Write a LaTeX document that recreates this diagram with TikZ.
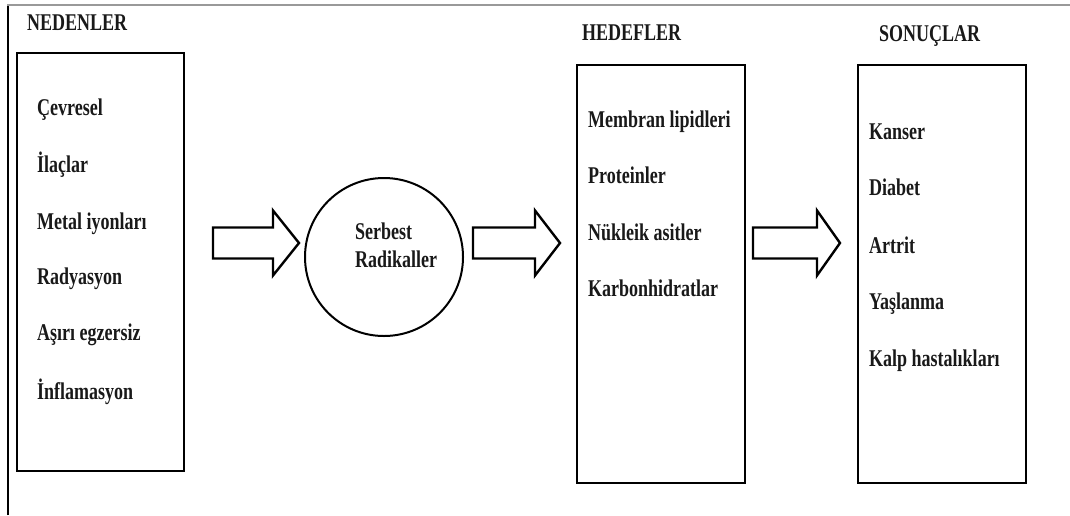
\documentclass[tikz,border=0pt]{standalone}
\usepackage{fontspec}
\setmainfont{Liberation Serif}[FakeStretch=0.75]
\begin{document}
\begin{tikzpicture}[x=1pt,y=-1pt,
  lbl/.style={font=\fontsize{24}{28}\selectfont\bfseries, inner sep=0pt, anchor=mid west, text=black!90},
  panel/.style={draw=black, line width=2.8pt},
  blk/.style={draw=black, line width=2.4pt, line join=miter, fill=white}]
\useasboundingbox (0,0) rectangle (1070,515);
% outer frame
\draw[gray!80, line width=2pt] (8,515) -- (8,5) -- (1070,5);
\draw[black, line width=1.6pt] (8,515) -- (8,6);
% titles
\node[lbl] (t1) at (27,28) {NEDENLER};
\node[lbl] (t2) at (582,38) {HEDEFLER};
\node[lbl] (t3) at (879,39) {SONUÇLAR};
% boxes
\draw[panel] (17,53) rectangle (184,471);
\draw[panel] (577,65) rectangle (745,483);
\draw[panel] (858,65) rectangle (1026,483);
% causes
\node[lbl] (c1) at (37,113) {Çevresel};
\node[lbl] (c2) at (37,170) {İlaçlar};
\node[lbl] (c3) at (37,227) {Metal iyonları};
\node[lbl] (c4) at (37,282) {Radyasyon};
\node[lbl] (c5) at (37,338) {Aşırı egzersiz};
\node[lbl] (c6) at (37,397) {İnflamasyon};
% circle
\node[draw=black, line width=2pt, circle, minimum size=158pt, inner sep=0pt] (fr) at (384,257) {};
\node[lbl] (s1) at (355,237) {Serbest};
\node[lbl] (s2) at (355,265) {Radikaller};
% targets
\node[lbl] (h1) at (588,125) {Membran lipidleri};
\node[lbl] (h2) at (588,181) {Proteinler};
\node[lbl] (h3) at (588,238) {Nükleik asitler};
\node[lbl] (h4) at (588,294) {Karbonhidratlar};
% outcomes
\node[lbl] (r1) at (869,137) {Kanser};
\node[lbl] (r2) at (869,193) {Diabet};
\node[lbl] (r3) at (869,251) {Artrit};
\node[lbl] (r4) at (869,307) {Yaşlanma};
\node[lbl] (r5) at (869,364) {Kalp hastalıkları};
% block arrows
\coordinate (a1) at (213,243);
\coordinate (a2) at (473,243);
\coordinate (a3) at (753,243);
\draw[blk] (a1) ++(0,-15.5) -- ++(60,0) -- ++(0,-17) -- ++(26,32.5) -- ++(-26,32.5) -- ++(0,-17) -- ++(-60,0) -- cycle;
\draw[blk] (a2) ++(0,-15.5) -- ++(62,0) -- ++(0,-17) -- ++(25,32.5) -- ++(-25,32.5) -- ++(0,-17) -- ++(-62,0) -- cycle;
\draw[blk] (a3) ++(0,-15.5) -- ++(64,0) -- ++(0,-17) -- ++(23,32.5) -- ++(-23,32.5) -- ++(0,-17) -- ++(-64,0) -- cycle;
\end{tikzpicture}
\end{document}
